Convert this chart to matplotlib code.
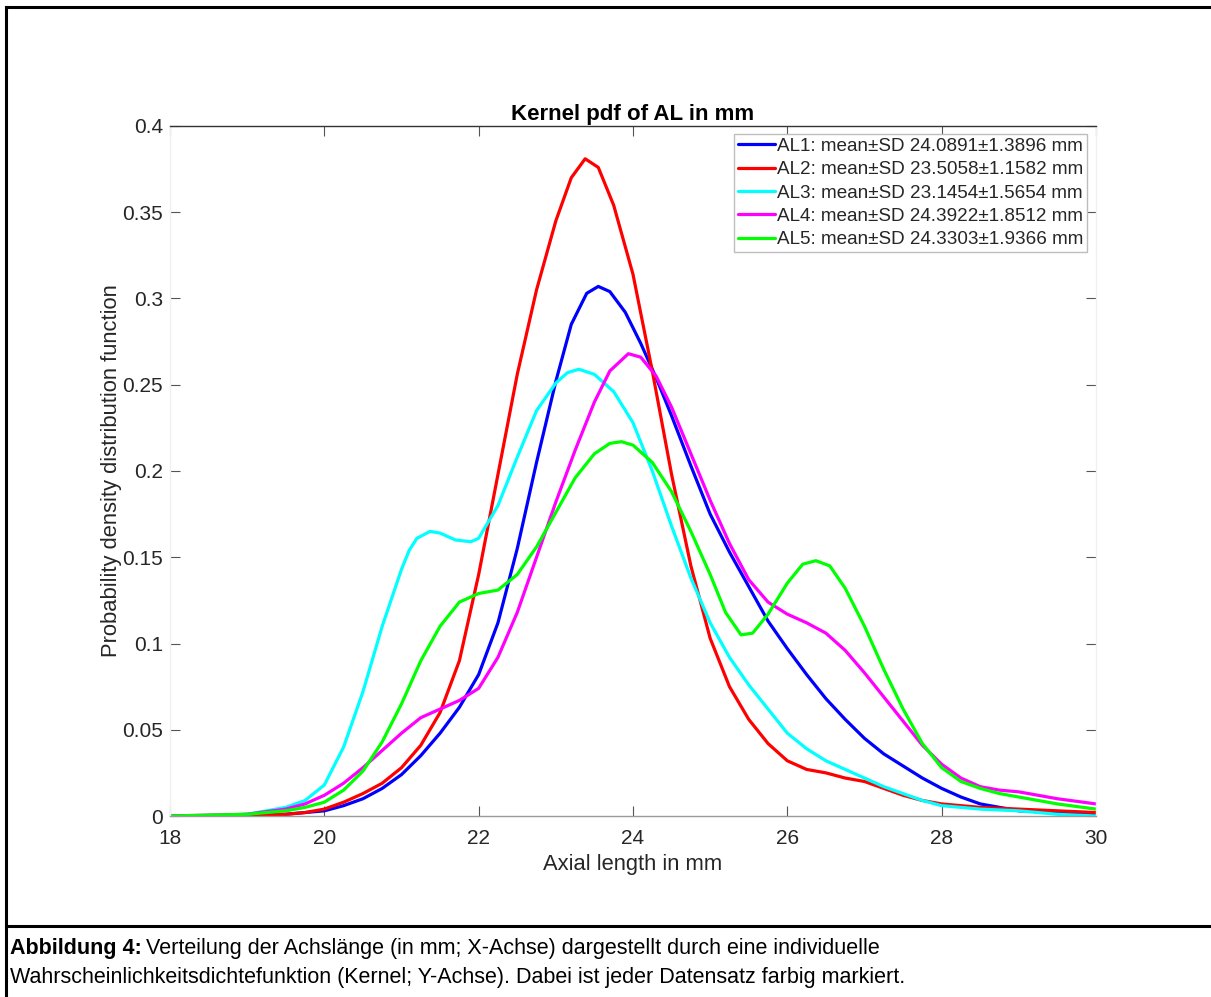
import matplotlib
matplotlib.use("Agg")
import matplotlib.pyplot as plt
from matplotlib.lines import Line2D

plt.rcParams['font.family'] = ['Liberation Sans', 'DejaVu Sans']

# ---- data ----
x_al1 = [18, 19, 19.5, 20, 20.25, 20.5, 20.75, 21, 21.25, 21.5, 21.75, 22, 22.25, 22.5, 22.75, 23, 23.2, 23.4, 23.55,
         23.7, 23.9, 24.1, 24.3, 24.5, 24.75, 25, 25.25, 25.5, 25.75, 26, 26.25, 26.5, 26.75, 27, 27.25, 27.5, 27.75,
         28, 28.25, 28.5, 28.75, 29, 29.5, 30]
y_al1 = [0, 0, 0.001, 0.003, 0.006, 0.010, 0.016, 0.024, 0.035, 0.048, 0.063, 0.082, 0.112, 0.155, 0.205, 0.252, 0.285,
         0.303, 0.307, 0.304, 0.292, 0.274, 0.254, 0.232, 0.203, 0.175, 0.153, 0.133, 0.113, 0.097, 0.082, 0.068,
         0.056, 0.045, 0.036, 0.029, 0.022, 0.016, 0.011, 0.007, 0.005, 0.003, 0.002, 0.001]

x_al2 = [18, 19, 19.5, 19.75, 20, 20.25, 20.5, 20.75, 21, 21.25, 21.5, 21.75, 22, 22.25, 22.5, 22.75, 23, 23.2, 23.38,
         23.55, 23.75, 24, 24.25, 24.5, 24.75, 25, 25.25, 25.5, 25.75, 26, 26.25, 26.5, 26.75, 27, 27.25, 27.5, 27.75,
         28, 28.5, 29, 30]
y_al2 = [0, 0, 0.001, 0.002, 0.004, 0.008, 0.013, 0.019, 0.028, 0.041, 0.060, 0.090, 0.140, 0.198, 0.256, 0.305, 0.345,
         0.370, 0.381, 0.376, 0.354, 0.314, 0.258, 0.198, 0.145, 0.103, 0.075, 0.056, 0.042, 0.032, 0.027, 0.025,
         0.022, 0.020, 0.016, 0.012, 0.009, 0.007, 0.005, 0.004, 0.002]

x_al3 = [18, 18.5, 19, 19.5, 19.75, 20, 20.25, 20.5, 20.75, 21, 21.1, 21.2, 21.37, 21.5, 21.7, 21.9, 22, 22.25, 22.5,
         22.75, 23, 23.15, 23.3, 23.5, 23.75, 24, 24.25, 24.5, 24.75, 25, 25.25, 25.5, 25.75, 26, 26.25, 26.5, 26.75,
         27, 27.25, 27.5, 27.75, 28, 28.5, 29, 29.5, 30]
y_al3 = [0, 0, 0.001, 0.005, 0.009, 0.018, 0.040, 0.072, 0.110, 0.143, 0.154, 0.161, 0.165, 0.164, 0.160, 0.159, 0.161,
         0.180, 0.208, 0.235, 0.251, 0.257, 0.259, 0.256, 0.246, 0.228, 0.200, 0.168, 0.138, 0.112, 0.092, 0.076,
         0.062, 0.048, 0.039, 0.032, 0.027, 0.022, 0.017, 0.013, 0.009, 0.006, 0.004, 0.003, 0.001, 0.0]

x_al4 = [18, 19, 19.5, 19.75, 20, 20.25, 20.5, 20.75, 21, 21.25, 21.5, 21.75, 22, 22.25, 22.5, 22.75, 23, 23.25, 23.5,
         23.7, 23.94, 24.1, 24.3, 24.5, 24.75, 25, 25.25, 25.5, 25.75, 26, 26.25, 26.5, 26.75, 27, 27.25, 27.5, 27.75,
         28, 28.25, 28.5, 28.75, 29, 29.5, 30]
y_al4 = [0, 0.001, 0.004, 0.007, 0.012, 0.019, 0.028, 0.038, 0.048, 0.057, 0.062, 0.067, 0.074, 0.092, 0.118, 0.150,
         0.182, 0.212, 0.240, 0.258, 0.268, 0.266, 0.255, 0.237, 0.210, 0.183, 0.158, 0.137, 0.124, 0.117, 0.112,
         0.106, 0.096, 0.083, 0.069, 0.055, 0.041, 0.030, 0.022, 0.017, 0.015, 0.014, 0.010, 0.007]

x_al5 = [18, 19, 19.5, 19.75, 20, 20.25, 20.5, 20.75, 21, 21.25, 21.5, 21.75, 22, 22.25, 22.5, 22.75, 23, 23.25, 23.5,
         23.7, 23.85, 24, 24.25, 24.5, 24.75, 25, 25.2, 25.4, 25.55, 25.75, 26, 26.2, 26.37, 26.55, 26.75, 27, 27.25,
         27.5, 27.75, 28, 28.25, 28.5, 28.75, 29, 29.5, 30]
y_al5 = [0, 0.001, 0.003, 0.005, 0.008, 0.015, 0.026, 0.043, 0.065, 0.090, 0.110, 0.124, 0.129, 0.131, 0.140, 0.156,
         0.176, 0.196, 0.210, 0.216, 0.217, 0.215, 0.205, 0.188, 0.165, 0.140, 0.118, 0.105, 0.106, 0.117, 0.135,
         0.146, 0.148, 0.145, 0.132, 0.110, 0.085, 0.062, 0.042, 0.028, 0.020, 0.016, 0.013, 0.011, 0.007, 0.004]

series_labels = [
    "AL1: mean\u00b1SD 24.0891\u00b11.3896 mm",
    "AL2: mean\u00b1SD 23.5058\u00b11.1582 mm",
    "AL3: mean\u00b1SD 23.1454\u00b11.5654 mm",
    "AL4: mean\u00b1SD 24.3922\u00b11.8512 mm",
    "AL5: mean\u00b1SD 24.3303\u00b11.9366 mm",
]
series_colors = ['#0000ff', '#ff0000', '#00ffff', '#ff00ff', '#00ff00']
x_ticks = [18, 20, 22, 24, 26, 28, 30]
y_ticks = [0, 0.05, 0.1, 0.15, 0.2, 0.25, 0.3, 0.35, 0.4]
y_tick_labels = ['0', '0.05', '0.1', '0.15', '0.2', '0.25', '0.3', '0.35', '0.4']

W, H = 1211, 997
fig = plt.figure(figsize=(W / 100, H / 100), dpi=100)
fig.patch.set_facecolor('white')

ax = fig.add_axes([170 / W, 1 - 816 / H, (1096 - 170) / W, (816 - 126) / H])

xs = [x_al1, x_al2, x_al3, x_al4, x_al5]
ys = [y_al1, y_al2, y_al3, y_al4, y_al5]
for xv, yv, c, lab in zip(xs, ys, series_colors, series_labels):
    ax.plot(xv, yv, color=c, lw=2.3, label=lab, solid_capstyle='round', solid_joinstyle='round')

ax.set_xlim(18, 30)
ax.set_ylim(0, 0.4)
ax.set_xticks(x_ticks)
ax.set_xticklabels([str(t) for t in x_ticks])
ax.set_yticks(y_ticks)
ax.set_yticklabels(y_tick_labels)

tick_col = '#262626'
ax.tick_params(axis='both', direction='in', length=7, width=0.8, colors='#555555',
               labelcolor=tick_col, labelsize=15, top=True, right=True)
ax.tick_params(axis='x', pad=9)
ax.tick_params(axis='y', pad=5)

ax.spines['top'].set_color('#333333')
ax.spines['bottom'].set_color('#9a9a9a')
ax.spines['left'].set_color('#f0f0f0')
ax.spines['right'].set_color('#f0f0f0')
for s in ax.spines.values():
    s.set_linewidth(1.0)
# left ticks faint
for tl in ax.yaxis.get_ticklines()[::2]:
    tl.set_color('#f0f0f0')

ax.set_title("Kernel pdf of AL in mm", fontsize=16, fontweight='bold', color='black', pad=4)
ax.set_xlabel("Axial length in mm", fontsize=15.8, color=tick_col, labelpad=5)
ax.set_ylabel("Probability density distribution function", fontsize=15.8, color=tick_col, labelpad=0)

leg = ax.legend(loc='upper right', bbox_to_anchor=(0.990, 0.990), borderaxespad=0,
                fontsize=13.55, frameon=True, fancybox=False, framealpha=1,
                edgecolor='#bdbdbd', handlelength=1.95, handletextpad=0.1,
                labelspacing=0.33, borderpad=0.2)
leg.get_frame().set_linewidth(1.0)
for t in leg.get_texts():
    t.set_color(tick_col)
fig.canvas.draw()
lb = leg.get_window_extent()
# nudge legend so its top edge sits just below the axes top (reference ~7px)
leg.set_bbox_to_anchor((0.990, 0.990 - 1.0 / 690), transform=ax.transAxes)

# outer frame and caption
fig.add_artist(Line2D([6 / W, 1.0], [1 - 7 / H, 1 - 7 / H], color='black', lw=2.2, transform=fig.transFigure))
fig.add_artist(Line2D([6 / W, 6 / W], [0, 1 - 7 / H], color='black', lw=2.2, transform=fig.transFigure))
fig.add_artist(Line2D([6 / W, 1.0], [1 - 926 / H, 1 - 926 / H], color='black', lw=2.2, transform=fig.transFigure))

cap_font = ['Liberation Sans Narrow', 'Liberation Sans', 'DejaVu Sans']
cap_size = 15.5
t1 = fig.text(10 / W, 1 - 948 / H, "Abbildung 4:", fontsize=cap_size, fontweight='bold',
              family=cap_font, va='center', ha='left')
fig.canvas.draw()
bb = t1.get_window_extent()
fig.text(bb.x1 / W + 4 / W, 1 - 948 / H, "Verteilung der Achslänge (in mm; X-Achse) dargestellt durch eine individuelle",
         fontsize=cap_size, family=cap_font, va='center', ha='left')
fig.text(10 / W, 1 - 977 / H, "Wahrscheinlichkeitsdichtefunktion (Kernel; Y-Achse). Dabei ist jeder Datensatz farbig markiert.",
         fontsize=cap_size, family=cap_font, va='center', ha='left')

fig.savefig("out.png", dpi=100)
